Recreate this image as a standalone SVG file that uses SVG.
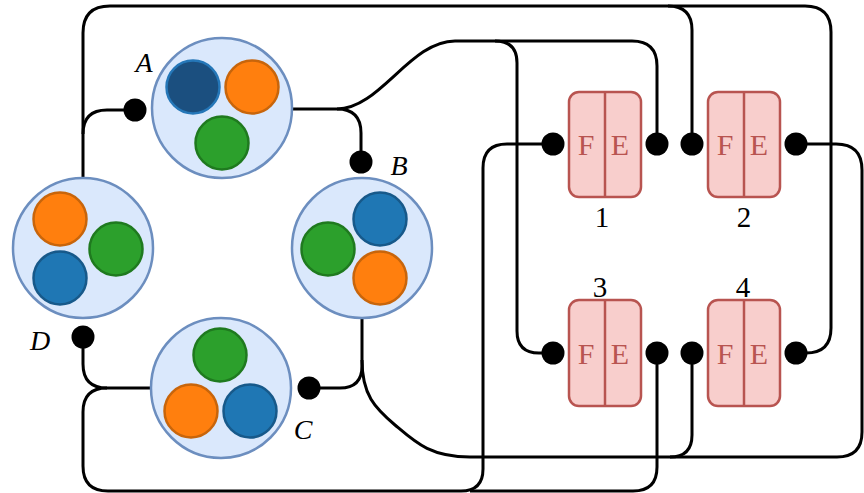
<svg xmlns="http://www.w3.org/2000/svg" width="864" height="493" viewBox="0 0 864 493">
<style>
.w{fill:none;stroke:#000;stroke-width:3;stroke-linecap:butt}
.dot{fill:#000}
.big{fill:#dae8fc;stroke:#6c8ebf;stroke-width:2.5}
.or{fill:#ff7f0e;stroke:#c8650b;stroke-width:2.5}
.gr{fill:#2ca02c;stroke:#1f7a1f;stroke-width:2.5}
.bl{fill:#1f77b4;stroke:#17598a;stroke-width:2.5}
.dbl{fill:#1b4f7f;stroke:#2577b8;stroke-width:2.5}
.box{fill:#f8cecc;stroke:#b85450;stroke-width:2.5}
.div{stroke:#b85450;stroke-width:2.5}
.fe{font-family:"Liberation Serif","Times New Roman",serif;font-size:30px;fill:#b85450;text-anchor:middle}
.num{font-family:"Liberation Serif","Times New Roman",serif;font-size:29px;fill:#000;text-anchor:middle}
.lab{font-family:"Liberation Serif","Times New Roman",serif;font-size:28px;font-style:italic;fill:#000;text-anchor:middle}
</style>
<g id="connectors">
<path class="w" d="M83,178 V33 Q83,6 110,6 H805 Q831,6 831,32 V328 Q831,353 806,353 H796"/>
<path class="w" d="M83,134 Q83,110 107,110 H135"/>
<path class="w" d="M668,6 Q692,6 692,30 V144"/>
<path class="w" d="M292,109 H337 Q361,109 361,133 V162"/>
<path class="w" d="M337,109 C380,109 410,41 455,41 H632 Q657,41 657,66 V144"/>
<path class="w" d="M495,41 Q517,41 517,63 V331 Q517,353 539,353 H553"/>
<path class="w" d="M553,144 H507 Q483,144 483,168 V469 Q483,491 461,491 H108 Q83,491 83,466 V412 Q83,388 107,388 H150"/>
<path class="w" d="M83,337 V364 Q83,388 107,388"/>
<path class="w" d="M657,353 V467 Q657,491 633,491 H470"/>
<path class="w" d="M362,319 V366 Q362,388 340,388 H309"/>
<path class="w" d="M362,360 C362,395 375,408 395,425 C415,442 430,457 470,457 H837 Q862,457 862,432 V170 Q862,144 836,144 H796"/>
<path class="w" d="M692,353 V435 Q692,457 670,457"/>
</g>
<g id="nodeA">
<circle class="big" cx="222" cy="108" r="70"/>
<circle class="dbl" cx="193" cy="87" r="26.5"/>
<circle class="or" cx="252" cy="87" r="26.5"/>
<circle class="gr" cx="222" cy="143" r="26.5"/>
<circle class="dot" cx="135" cy="110" r="11.5"/>
<text class="lab" x="144" y="72">A</text>
</g>
<g id="nodeB">
<circle class="big" cx="362" cy="248" r="70"/>
<circle class="bl" cx="380" cy="219" r="26.5"/>
<circle class="gr" cx="328" cy="249" r="26.5"/>
<circle class="or" cx="380" cy="278" r="26.5"/>
<circle class="dot" cx="361" cy="162" r="11.5"/>
<text class="lab" x="399" y="175">B</text>
</g>
<g id="nodeC">
<circle class="big" cx="221" cy="388" r="70"/>
<circle class="gr" cx="220" cy="355" r="26.5"/>
<circle class="or" cx="191" cy="411" r="26.5"/>
<circle class="bl" cx="250" cy="411" r="26.5"/>
<circle class="dot" cx="309" cy="388" r="11.5"/>
<text class="lab" x="303" y="439">C</text>
</g>
<g id="nodeD">
<circle class="big" cx="83" cy="248" r="70"/>
<circle class="or" cx="60" cy="219" r="26.5"/>
<circle class="gr" cx="116" cy="249" r="26.5"/>
<circle class="bl" cx="60" cy="278" r="26.5"/>
<circle class="dot" cx="83" cy="337" r="11.5"/>
<text class="lab" x="40" y="350">D</text>
</g>
<g id="fe1">
<rect class="box" x="569" y="92" width="72" height="105" rx="10"/>
<line class="div" x1="605" y1="92" x2="605" y2="197"/>
<text class="fe" x="586" y="155">F</text>
<text class="fe" x="620" y="155">E</text>
<circle class="dot" cx="553" cy="144" r="11.5"/>
<circle class="dot" cx="657" cy="144" r="11.5"/>
<text class="num" x="602" y="227">1</text>
</g>
<g id="fe2">
<rect class="box" x="708" y="92" width="72" height="105" rx="10"/>
<line class="div" x1="744" y1="92" x2="744" y2="197"/>
<text class="fe" x="725" y="155">F</text>
<text class="fe" x="759" y="155">E</text>
<circle class="dot" cx="692" cy="144" r="11.5"/>
<circle class="dot" cx="796" cy="144" r="11.5"/>
<text class="num" x="744" y="227">2</text>
</g>
<g id="fe3">
<rect class="box" x="569" y="300" width="72" height="106" rx="10"/>
<line class="div" x1="605" y1="300" x2="605" y2="406"/>
<text class="fe" x="586" y="364">F</text>
<text class="fe" x="620" y="364">E</text>
<circle class="dot" cx="553" cy="353" r="11.5"/>
<circle class="dot" cx="657" cy="353" r="11.5"/>
<text class="num" x="600" y="297">3</text>
</g>
<g id="fe4">
<rect class="box" x="708" y="300" width="72" height="106" rx="10"/>
<line class="div" x1="744" y1="300" x2="744" y2="406"/>
<text class="fe" x="725" y="364">F</text>
<text class="fe" x="759" y="364">E</text>
<circle class="dot" cx="692" cy="353" r="11.5"/>
<circle class="dot" cx="796" cy="353" r="11.5"/>
<text class="num" x="743" y="297">4</text>
</g>
</svg>
